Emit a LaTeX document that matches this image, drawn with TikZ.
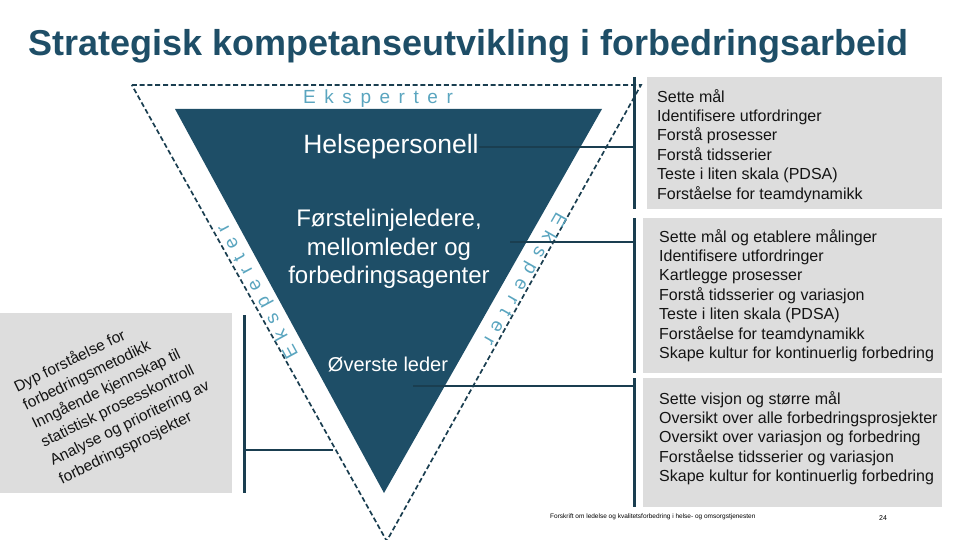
\documentclass[tikz,border=0pt]{standalone}
\usepackage{fontspec}
\setmainfont{Liberation Sans}
\newfontfamily\spacedfont{Liberation Sans}[LetterSpace=45]
\definecolor{navy}{RGB}{30,78,103}
\definecolor{linecol}{RGB}{26,62,80}
\definecolor{lightblue}{RGB}{90,165,191}
\definecolor{panelgray}{RGB}{221,221,221}
\begin{document}
\begin{tikzpicture}[x=1pt,y=-1pt,
  panel/.style={fill=panelgray,draw=none,inner sep=0pt,anchor=north west},
  conn/.style={draw=linecol,line width=2.1pt},
  outline/.style={draw=linecol,line width=1.7pt,dash pattern=on 5pt off 2.8pt},
  listtext/.style={anchor=north west,align=left,inner sep=0pt,text=black!92,font=\fontsize{16}{19.4}\selectfont},
  whitetext/.style={text=white,align=center,inner sep=0pt},
  eks/.style={text=lightblue,inner sep=0pt,font=\spacedfont\fontsize{19}{19}\selectfont}]
\useasboundingbox (0,0) rectangle (960,540);
\clip (0,0) rectangle (960,540);
% panels
\node[panel,minimum width=295pt,minimum height=132pt] (p1) at (647,77) {};
\node[panel,minimum width=299pt,minimum height=155pt] (p2) at (643,218) {};
\node[panel,minimum width=299pt,minimum height=129pt] (p3) at (643,378) {};
\node[panel,minimum width=232pt,minimum height=180pt] (p0) at (0,313) {};
% dashed outline
\coordinate (o1) at (131.8,85);
\coordinate (o2) at (641,85);
\coordinate (o3) at (386.7,541);
\draw[outline] (o1) -- (o2) -- (o3) -- cycle;
% dark triangle
\coordinate (t1) at (175,109);
\coordinate (t2) at (602,109);
\coordinate (t3) at (384,493);
\fill[navy] (t1) -- (t2) -- (t3) -- cycle;
% title
\node[anchor=base west,inner sep=0pt,text=navy,font=\bfseries\fontsize{36}{40}\selectfont] (title) at (28,56) {Strategisk kompetanseutvikling i forbedringsarbeid};
% Eksperter labels
\node[eks,anchor=base west] (e1) at (303,104) {Eksperter};
\node[eks,rotate=118.6] (e2) at (260.5,295) {Eksperter\kern-8.5pt};
\node[eks,rotate=240.4] (e3) at (526,275) {Eksperter\kern-8.5pt};
% triangle texts
\node[whitetext,anchor=base,font=\fontsize{26.5}{30}\selectfont] (hp) at (391,154) {Helsepersonell};
\node[whitetext,font=\fontsize{24}{28.5}\selectfont] (fl) at (389,249) {Førstelinjeledere,\\mellomleder og\\forbedringsagenter};
\node[whitetext,anchor=base,font=\fontsize{20}{24}\selectfont] (ol) at (388,371) {Øverste leder};
% panel texts
\node[listtext] (l1) at (657,88.4) {\strut Sette mål\\Identifisere utfordringer\\Forstå prosesser\\Forstå tidsserier\\Teste i liten skala (PDSA)\\Forståelse for teamdynamikk};
\node[listtext] (l2) at (659,228.4) {\strut Sette mål og etablere målinger\\Identifisere utfordringer\\Kartlegge prosesser\\Forstå tidsserier og variasjon\\Teste i liten skala (PDSA)\\Forståelse for teamdynamikk\\Skape kultur for kontinuerlig forbedring};
\node[listtext] (l3) at (659,390.4) {\strut Sette visjon og større mål\\Oversikt over alle forbedringsprosjekter\\Oversikt over variasjon og forbedring\\Forståelse tidsserier og variasjon\\Skape kultur for kontinuerlig forbedring};
\node[rotate=26,anchor=north west,align=left,inner sep=0pt,text=black!92,font=\fontsize{15.5}{20.5}\selectfont] (lt) at (10.7,379.1) {\strut Dyp forståelse for\\forbedringsmetodikk\\Inngående kjennskap til\\statistisk prosesskontroll\\Analyse og prioritering av\\forbedringsprosjekter};
% brackets
\coordinate (k1a) at (634.5,77);
\coordinate (k1b) at (634.5,209);
\coordinate (k2a) at (634.5,218);
\coordinate (k2b) at (634.5,373);
\coordinate (k3a) at (634.5,378);
\coordinate (k3b) at (634.5,507);
\coordinate (k0a) at (244.5,315);
\coordinate (k0b) at (244.5,493);
\draw[conn] (k1a) -- (k1b);
\draw[conn] (k2a) -- (k2b);
\draw[conn] (k3a) -- (k3b);
\draw[conn] (k0a) -- (k0b);
% connectors
\coordinate (c1) at (hp.east);
\coordinate (c2) at (510,242);
\coordinate (c3) at (413,386);
\coordinate (c0) at (333,450);
\draw[conn] (c1) -- (c1 -| k1a);
\draw[conn] (c2) -- (c2 -| k2a);
\draw[conn] (c3) -- (c3 -| k3a);
\draw[conn] (c0) -- (c0 -| k0a);
% footer
\node[anchor=west,inner sep=0pt,font=\fontsize{6.5}{7}\selectfont] (foot) at (550,517) {Forskrift om ledelse og kvalitetsforbedring i helse- og omsorgstjenesten};
\node[inner sep=0pt,font=\fontsize{7}{8}\selectfont] (pg) at (883,518) {24};
\end{tikzpicture}
\end{document}
